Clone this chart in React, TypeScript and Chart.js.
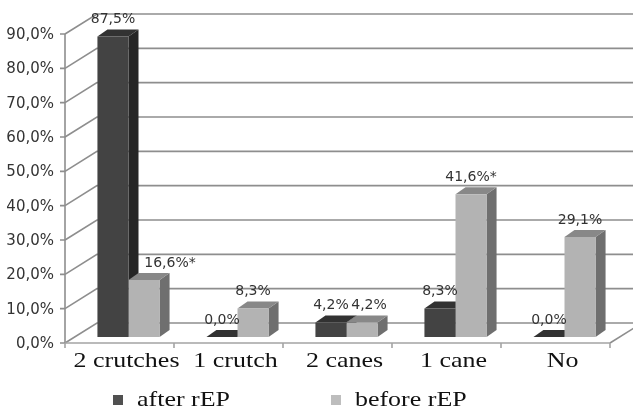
import React, { useEffect, useRef } from "react";
import { Chart, registerables } from "chart.js";

Chart.register(...registerables);

// ---- data ----
const categories = ["2 crutches", "1 crutch", "2 canes", "1 cane", "No"];
const seriesNames = ["after rEP", "before rEP"];
const afterValues = [87.5, 0.0, 4.2, 8.3, 0.0];
const beforeValues = [16.6, 8.3, 4.2, 41.6, 29.1];
const afterMarks = ["", "", "", "", ""];
const beforeMarks = ["*", "", "", "*", ""];
const yTicks = [0, 10, 20, 30, 40, 50, 60, 70, 80, 90];

const fmt = (v: number) => v.toFixed(1).replace(".", ",") + "%";

// ---- styles / geometry ----
const WALL_DX = 32;
const WALL_DY = -20;
const SHIFT_X = 9;
const SHIFT_Y = -6;
const BAR_DX = 10;
const BAR_DY = -7;
const GRID = "#8e8e8e";
const faces = [
  { front: "#434343", side: "#262626", top: "#323232", legend: "#505050" },
  { front: "#b3b3b3", side: "#6f6f6f", top: "#888888", legend: "#bdbdbd" },
];
const labelNudge: Record<string, number> = { "1-0": 26, "1-2": 7 };
const SERIF = "'Liberation Serif', 'Times New Roman', serif";
const SANS = "'DejaVu Sans', Verdana, sans-serif";
const STRETCH = 1.18;

function stretchedText(ctx: CanvasRenderingContext2D, text: string, x: number, y: number, align: CanvasTextAlign) {
  ctx.save();
  ctx.translate(x, y);
  ctx.scale(STRETCH, 1);
  ctx.textAlign = align;
  ctx.fillText(text, 0, 0);
  ctx.restore();
}

const pseudo3d = {
  id: "pseudo3d",
  beforeDraw(chart: any) {
    const ctx = chart.ctx as CanvasRenderingContext2D;
    ctx.save();
    ctx.fillStyle = "#ffffff";
    ctx.fillRect(0, 0, chart.width, chart.height);
    ctx.restore();
  },
  beforeDatasetsDraw(chart: any) {
    const ctx = chart.ctx as CanvasRenderingContext2D;
    const { left, right, top, bottom } = chart.chartArea;
    const x = chart.scales.x;
    const y = chart.scales.y;
    ctx.save();
    // back wall + side wall gridlines
    ctx.strokeStyle = GRID;
    ctx.lineWidth = 1.6;
    for (const t of yTicks) {
      const py = y.getPixelForValue(t);
      ctx.beginPath();
      ctx.moveTo(left, py);
      ctx.lineTo(left + WALL_DX, py + WALL_DY);
      ctx.lineTo(right + WALL_DX, py + WALL_DY);
      ctx.stroke();
    }
    const y0 = y.getPixelForValue(0);
    // floor right edge
    ctx.beginPath();
    ctx.moveTo(right, y0);
    ctx.lineTo(right + WALL_DX, y0 + WALL_DY);
    ctx.stroke();
    // vertical axis + ticks
    ctx.beginPath();
    ctx.moveTo(left, top);
    ctx.lineTo(left, bottom);
    for (const t of yTicks) {
      const py = y.getPixelForValue(t);
      ctx.moveTo(left - 5, py);
      ctx.lineTo(left, py);
    }
    ctx.stroke();
    // floor front edge + category ticks
    ctx.strokeStyle = "#a4a4a4";
    ctx.beginPath();
    ctx.moveTo(left, bottom);
    ctx.lineTo(right, bottom);
    const n = categories.length;
    for (let i = 0; i <= n; i++) {
      let bx: number;
      if (i === 0) bx = left;
      else if (i === n) bx = right;
      else bx = (x.getPixelForValue(i - 1) + x.getPixelForValue(i)) / 2;
      ctx.moveTo(bx, bottom);
      ctx.lineTo(bx, bottom + 5);
    }
    ctx.stroke();

    // side and top faces of the bars
    chart.data.datasets.forEach((_ds: any, d: number) => {
      const meta = chart.getDatasetMeta(d);
      meta.data.forEach((el: any) => {
        const x0 = el.x - el.width / 2 + SHIFT_X;
        const x1 = el.x + el.width / 2 + SHIFT_X;
        const yt = el.y + SHIFT_Y;
        const yb = el.base + SHIFT_Y;
        ctx.fillStyle = faces[d].side;
        ctx.beginPath();
        ctx.moveTo(x1, yt);
        ctx.lineTo(x1 + BAR_DX, yt + BAR_DY);
        ctx.lineTo(x1 + BAR_DX, yb + BAR_DY);
        ctx.lineTo(x1, yb);
        ctx.closePath();
        ctx.fill();
        ctx.fillStyle = faces[d].top;
        ctx.beginPath();
        ctx.moveTo(x0, yt);
        ctx.lineTo(x1, yt);
        ctx.lineTo(x1 + BAR_DX, yt + BAR_DY);
        ctx.lineTo(x0 + BAR_DX, yt + BAR_DY);
        ctx.closePath();
        ctx.fill();
      });
    });
    ctx.restore();
    // front faces drawn by Chart.js, shifted into depth
    ctx.save();
    ctx.translate(SHIFT_X, SHIFT_Y);
  },
  afterDatasetsDraw(chart: any) {
    const ctx = chart.ctx as CanvasRenderingContext2D;
    ctx.restore();
    const { left, bottom } = chart.chartArea;
    const x = chart.scales.x;
    const y = chart.scales.y;
    ctx.save();
    // y tick labels
    ctx.font = `15px ${SANS}`;
    ctx.fillStyle = "#333333";
    ctx.textAlign = "right";
    ctx.textBaseline = "middle";
    for (const t of yTicks) {
      ctx.fillText(fmt(t), left - 11, y.getPixelForValue(t) + 1);
    }
    // data labels
    ctx.font = `14px ${SANS}`;
    ctx.textAlign = "center";
    const marks = [afterMarks, beforeMarks];
    chart.data.datasets.forEach((ds: any, d: number) => {
      const meta = chart.getDatasetMeta(d);
      meta.data.forEach((el: any, i: number) => {
        const nudge = labelNudge[`${d}-${i}`] || 0;
        const cx = el.x + SHIFT_X + nudge;
        const cy = el.y + SHIFT_Y - 17;
        ctx.fillText(fmt(ds.data[i]) + marks[d][i], cx, cy);
      });
    });
    // category labels
    ctx.font = `22px ${SERIF}`;
    ctx.fillStyle = "#111111";
    ctx.textBaseline = "alphabetic";
    categories.forEach((c, i) => {
      stretchedText(ctx, c, x.getPixelForValue(i) + 7, bottom + 24, "center");
    });
    // legend
    let lx = 113;
    const ly = 406;
    seriesNames.forEach((name, d) => {
      ctx.fillStyle = faces[d].legend;
      ctx.fillRect(lx, ly - 11, 10, 10);
      ctx.fillStyle = "#111111";
      stretchedText(ctx, name, lx + 24, ly, "left");
      lx += 24 + ctx.measureText(name).width * STRETCH + 101;
    });
    ctx.restore();
  },
};

export default function App() {
  const ref = useRef<HTMLCanvasElement | null>(null);
  useEffect(() => {
    document.body.style.margin = "0";
    if (!ref.current) return;
    const chart = new Chart(ref.current, {
      type: "bar",
      data: {
        labels: categories,
        datasets: [
          {
            label: seriesNames[0],
            data: afterValues,
            backgroundColor: faces[0].front,
            borderWidth: 0,
            barPercentage: 1,
            categoryPercentage: 0.57,
          },
          {
            label: seriesNames[1],
            data: beforeValues,
            backgroundColor: faces[1].front,
            borderWidth: 0,
            barPercentage: 1,
            categoryPercentage: 0.57,
          },
        ],
      },
      options: {
        responsive: false,
        animation: false,
        devicePixelRatio: 1,
        layout: { padding: { left: 65, right: 23, top: 34, bottom: 69 } },
        scales: {
          x: { type: "category", display: false, offset: true },
          y: { type: "linear", display: false, min: 0, max: 90 },
        },
        plugins: {
          legend: { display: false },
          tooltip: { enabled: false },
        },
        datasets: { bar: { clip: false } as any },
      } as any,
      plugins: [pseudo3d as any],
    });
    return () => chart.destroy();
  }, []);
  return (
    <div style={{ width: 633, height: 412 }}>
      <canvas ref={ref} width={633} height={412} style={{ display: "block" }} />
    </div>
  );
}
